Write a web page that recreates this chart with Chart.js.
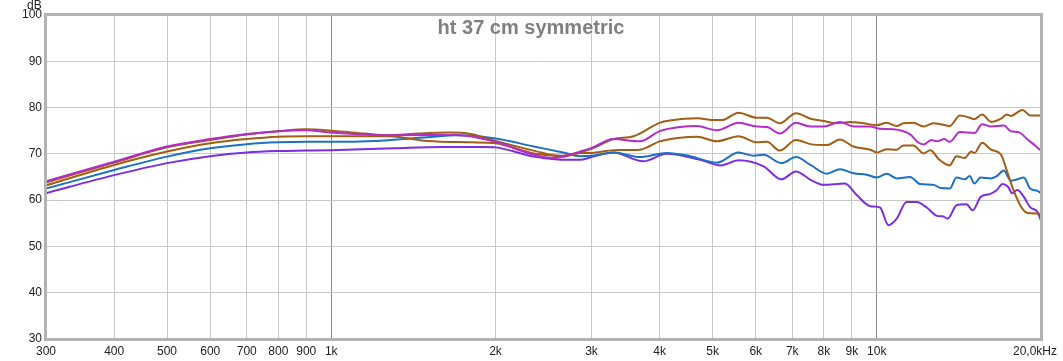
<!DOCTYPE html>
<html>
<head>
<meta charset="utf-8">
<script src="https://cdn.jsdelivr.net/npm/chart.js@4/dist/chart.umd.min.js"></script>
<style>
  body { margin: 0; background: #fff; }
</style>
</head>
<body>
<canvas id="myChart" width="1063" height="361"></canvas>
<script>
const chartTitle = 'ht 37 cm symmetric';
const yUnit = 'dB';

// x axis ticks (Hz) and their labels
const freqTicks = [300,400,500,600,700,800,900,1000,2000,3000,4000,5000,6000,7000,8000,9000,10000,20000];
const freqLabels = ['300','400','500','600','700','800','900','1k','2k','3k','4k','5k','6k','7k','8k','9k','10k','20,0kHz'];

// curves: frequency (Hz) / level (dB)
const magentaHz = [300,400,500,600,700,800,900,1000,1300,1700,2000,2350,2550,2750,2860,3000,3290,3680,4000,4360,4680,5090,5580,6030,6290,6640,7110,7560,7990,8560,9060,9730,10140,10720,11510,11900,12180,12600,12900,13300,13600,14200,15100,15600,16200,17100,17600,18200,18900,19600,20000];
const magentaDb = [64.1,68.3,71.6,73.2,74.3,74.9,75.1,74.6,74.0,74.1,72.6,69.8,69.1,69.9,70.5,71.3,73.2,72.7,74.9,75.8,76.0,75.1,76.7,75.9,75.8,74.4,76.7,75.9,75.9,76.9,75.9,75.9,75.4,75.3,74.2,72.5,72.0,73.0,72.7,73.2,72.6,74.7,74.5,76.4,75.9,76.1,74.9,74.7,73.1,71.6,70.7];

const brownTopHz = [300,400,500,600,700,800,900,1000,1150,1270,1450,1650,1800,2000,2350,2660,2860,3000,3290,3580,4000,4180,4680,5050,5200,5580,6030,6290,6640,7110,7560,7990,8440,8930,9450,10000,10430,10880,11190,11670,12180,12700,13100,13600,14200,14800,15100,15600,16200,16900,17300,17600,18500,19100,20000];
const brownTopDb = [63.8,68.1,71.4,73.0,74.2,74.9,75.3,75.0,74.4,74.0,74.4,74.6,74.3,72.8,70.7,69.4,70.3,71.1,73.2,73.8,76.7,77.2,77.7,77.3,77.3,78.9,77.8,77.8,76.6,78.8,77.6,77.1,76.6,76.9,76.6,76.2,76.7,76.0,76.6,76.7,75.9,76.6,76.4,76.0,78.3,77.8,77.5,78.5,76.9,77.6,78.5,78.2,79.5,78.3,78.3];

const brownLowHz = [300,400,500,600,700,800,900,1000,1270,1500,1800,2000,2350,2660,2860,3000,3290,3680,4000,4360,4680,5090,5580,6030,6290,6640,7110,7560,8100,8560,9060,9730,10000,10430,10880,11190,11670,12180,12540,13000,13600,14000,14500,14900,15100,15600,16200,16900,17300,17800,18400,18900,19700,20000];
const brownLowDb = [63.2,67.6,70.5,72.3,73.2,73.7,73.8,73.8,73.8,72.8,72.5,72.3,70.1,69.6,70.2,70.2,70.8,70.9,72.7,73.5,73.7,72.7,73.8,72.5,72.6,70.7,73.0,72.1,71.9,73.1,71.6,70.9,70.3,71.0,70.9,71.8,71.8,70.1,70.8,68.8,67.5,69.5,69.1,70.5,70.2,72.4,70.9,69.8,66.5,62.2,58.5,57.2,57.1,57.0];

const blueHz = [300,400,500,600,700,800,900,1000,1200,1500,1700,2000,2350,2660,2860,3000,3290,3680,4120,4550,5090,5580,5950,6200,6690,7110,7560,8100,8560,9060,9590,10000,10430,10880,11510,12000,12720,13100,13600,14000,14500,14800,15100,15500,16200,16600,17100,17600,18100,18600,19100,19700,20000];
const blueDb = [62.5,66.5,69.4,71.2,72.1,72.5,72.6,72.6,72.8,73.6,74.0,73.3,71.6,70.3,69.5,69.6,70.3,69.3,70.2,69.5,68.1,70.3,69.6,69.8,68.0,69.3,67.6,65.7,66.7,65.8,65.5,64.9,65.7,64.7,65.0,63.5,63.3,62.6,62.5,64.9,64.5,65.2,63.6,64.9,64.7,65.2,66.4,64.2,64.5,64.9,62.5,62.0,61.5];

const violetHz = [300,400,500,600,700,800,900,1000,1300,1600,1900,2000,2350,2600,2860,3000,3290,3730,4120,4750,5170,5580,6200,6690,7110,7560,7990,8740,9190,9730,10140,10500,10880,11340,11840,12350,12900,13200,13500,14000,14600,15000,15500,16100,16600,17000,17400,17700,18100,18600,19100,19700,20000];
const violetDb = [61.5,65.4,68.0,69.5,70.3,70.6,70.7,70.8,71.2,71.5,71.5,71.4,69.4,68.8,68.7,69.3,70.3,68.4,70.0,68.7,67.5,68.6,67.3,64.5,66.2,64.4,63.3,63.6,61.1,58.7,58.4,54.6,56.0,59.6,59.6,58.4,56.6,56.5,56.0,58.9,59.1,57.8,60.7,61.3,62.2,63.5,62.9,61.5,62.2,60.7,58.5,57.5,55.6];

function pts(hz, db) {
  return hz.map((f, i) => ({ x: f, y: db[i] }));
}
function curve(hz, db, color) {
  return {
    data: pts(hz, db),
    borderColor: color,
    borderWidth: 2,
    pointRadius: 0,
    fill: false,
    cubicInterpolationMode: 'monotone'
  };
}

const labelFont = '12px "Liberation Sans", Arial, sans-serif';
const lastIdx = freqTicks.length - 1;

// title, unit, last x label and the plot frame
const decor = {
  id: 'decor',
  afterDatasetsDraw(chart) {
    const c = chart.ctx;
    const a = chart.chartArea;
    c.save();
    c.strokeStyle = '#b2b2b2';
    c.lineWidth = 3;
    c.strokeRect(a.left - 0.5, a.top - 0.5, a.right - a.left + 1, a.bottom - a.top + 1);
    c.fillStyle = '#808080';
    c.font = 'bold 20px "Liberation Sans", Arial, sans-serif';
    c.textAlign = 'center';
    c.textBaseline = 'alphabetic';
    c.fillText(chartTitle, 531, 34);
    c.fillStyle = '#222';
    c.font = labelFont;
    c.textAlign = 'left';
    c.fillText(yUnit, 27, 9);
    // the last frequency label sits flush right, as in the original
    c.textAlign = 'right';
    c.textBaseline = 'top';
    c.fillText(freqLabels[lastIdx], 1057, a.bottom + 7);
    c.restore();
  }
};

const ctx = document.getElementById('myChart').getContext('2d');
const config = {
  type: 'line',
  data: {
    datasets: [
      curve(magentaHz, magentaDb, '#b42ccb'),
      curve(brownTopHz, brownTopDb, '#a15e14'),
      curve(brownLowHz, brownLowDb, '#a15e14'),
      curve(blueHz, blueDb, '#1c72c0'),
      curve(violetHz, violetDb, '#7a2ee0')
    ]
  },
  options: {
    responsive: false,
    animation: false,
    layout: { padding: { top: 15, right: 22, left: 0, bottom: 0 } },
    plugins: {
      legend: { display: false },
      title: { display: false },
      tooltip: { enabled: false }
    },
    scales: {
      x: {
        type: 'logarithmic',
        min: 300,
        max: 20000,
        afterBuildTicks: s => { s.ticks = freqTicks.map(v => ({ value: v })); },
        afterFit: s => { s.height = 22; s.paddingLeft = 0; s.paddingRight = 0; },
        border: { display: false },
        grid: {
          drawTicks: false,
          color: g => (g.tick && (g.tick.value === 1000 || g.tick.value === 10000)) ? '#8c8c8c' : '#c8c8c8',
          lineWidth: 1
        },
        ticks: {
          autoSkip: false,
          maxRotation: 0,
          padding: 5,
          color: '#222',
          font: { family: '"Liberation Sans", Arial, sans-serif', size: 12 },
          callback: (v, i) => (i === lastIdx ? '' : freqLabels[i])
        }
      },
      y: {
        min: 30,
        max: 100,
        afterFit: s => { s.width = 46; },
        border: { display: false },
        grid: { drawTicks: false, color: '#c8c8c8', lineWidth: 1 },
        ticks: {
          stepSize: 10,
          padding: 4,
          color: '#222',
          font: { family: '"Liberation Sans", Arial, sans-serif', size: 12 }
        }
      }
    }
  },
  plugins: [decor]
};

var myChart = new Chart(ctx, config);
</script>
</body>
</html>
